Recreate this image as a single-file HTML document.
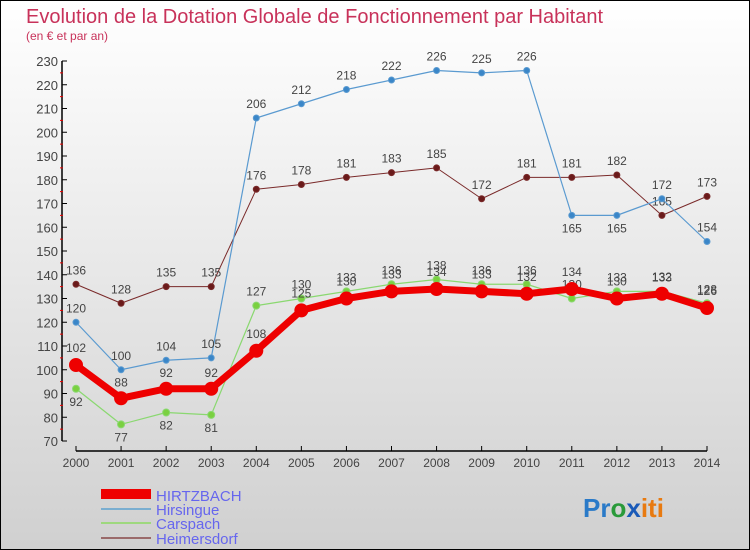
<!DOCTYPE html>
<html><head><meta charset="utf-8"><style>
body{margin:0}
#wrap{width:748px;height:548px;border:1px solid #000;background:linear-gradient(#ffffff,#d0d0d0);position:relative;overflow:hidden;font-family:"Liberation Sans",sans-serif}
svg text{font-family:"Liberation Sans",sans-serif}
</style></head><body>
<div id="wrap">
<svg id="chart" width="748" height="548">
<text x="25" y="22" font-size="20" fill="#c8325a">Evolution de la Dotation Globale de Fonctionnement par Habitant</text>
<text x="25" y="39" font-size="12" fill="#c8325a">(en € et par an)</text>
<g id="axes"></g><g id="series"></g>
<g>
<rect x="100" y="488" width="50" height="10" fill="#ee0000"/>
<text x="155" y="500" font-size="15" fill="#6666ee">HIRTZBACH</text>
<line x1="100" y1="508" x2="150" y2="508" stroke="#7aaed0" stroke-width="2"/>
<text x="155" y="514" font-size="15" fill="#6666ee">Hirsingue</text>
<line x1="100" y1="522" x2="150" y2="522" stroke="#9ed87e" stroke-width="2"/>
<text x="155" y="528" font-size="15" fill="#6666ee">Carspach</text>
<line x1="100" y1="537" x2="150" y2="537" stroke="#9a6a6a" stroke-width="2"/>
<text x="155" y="543" font-size="15" fill="#6666ee">Heimersdorf</text>
</g>
<g font-size="26" font-weight="bold">
<text x="582" y="516"><tspan fill="#2a7ac8">Pr</tspan><tspan fill="#2a9a3a">o</tspan><tspan fill="#1a5ab8">x</tspan><tspan fill="#e87a10">iti</tspan></text>
</g>
</svg>
</div>
<script>
const years=[2000,2001,2002,2003,2004,2005,2006,2007,2008,2009,2010,2011,2012,2013,2014];
const hirtzbach=[102,88,92,92,108,125,130,133,134,133,132,134,130,132,126];
const hirsingue=[120,100,104,105,206,212,218,222,226,225,226,165,165,172,154];
const carspach=[92,77,82,81,127,130,133,136,138,136,136,130,133,133,128];
const heimersdorf=[136,128,135,135,176,178,181,183,185,172,181,181,182,165,173];
const yTicks=[70,80,90,100,110,120,130,140,150,160,170,180,190,200,210,220,230];
const NS="http://www.w3.org/2000/svg";
function X(i){return 75+i*(706-75)/(years.length-1);}
function Y(v){return 440-(v-70)*380/160;}
function mk(t,a,p){const e=document.createElementNS(NS,t);for(const k in a)e.setAttribute(k,a[k]);p.appendChild(e);return e;}
const ax=document.getElementById('axes');
let l=mk('line',{x1:61,y1:Y(230),x2:61,y2:440,stroke:'#000','stroke-width':1.5},ax);


l=mk('line',{x1:75,y1:450,x2:706,y2:450,stroke:'#000','stroke-width':1.5},ax);


yTicks.forEach((v,i)=>{
  mk('line',{x1:61,y1:Y(v),x2:66,y2:Y(v),stroke:'#000'},ax);
  if(i<yTicks.length-1)mk('line',{x1:59,y1:Y(v+5),x2:62,y2:Y(v+5),stroke:'#e00'},ax);
  const t=mk('text',{x:57,y:Y(v)+5,'font-size':13,fill:'#444','text-anchor':'end'},ax);
  t.textContent=v;
  
  
});
years.forEach((y,i)=>{
  mk('line',{x1:X(i),y1:445,x2:X(i),y2:450,stroke:'#000'},ax);
  const t=mk('text',{x:X(i),y:466,'font-size':12,fill:'#444','text-anchor':'middle'},ax);
  t.textContent=y;
  
  
});
const sg=document.getElementById('series');
function draw(data,name,color,lw,r,dot,labOff){
  const g=mk('g',{},sg);
  
  
  const p=mk('polyline',{points:data.map((v,i)=>X(i)+','+Y(v)).join(' '),fill:'none',stroke:color,'stroke-width':lw,'stroke-linejoin':'round'},g);
  
  
  data.forEach((v,i)=>{
    const c=mk('circle',{cx:X(i),cy:Y(v),r:r,fill:dot,stroke:color,'stroke-width':1},g);
    
    
    const t=mk('text',{x:X(i),y:Y(v)+labOff(i,v),'font-size':12,fill:'#444','text-anchor':'middle'},g);
    t.textContent=v;
    
    
  });
}
draw(heimersdorf,'heimersdorf','#7a2a2a',1,3,'#6a1a1a',()=>-10);
draw(hirsingue,'hirsingue','#5a9ad0',1.2,3,'#3a86c8',(i)=>i>=11&&i<13?17:-10);
draw(carspach,'carspach','#8ad870',1.2,3.5,'#7ad040',(i)=>i<4?(i==0?17:17):-10);
draw(hirtzbach,'hirtzbach','#ee0000',7,6.5,'#ee0000',(i)=>i<4&&i>0?-12:-13);
</script>
</body></html>
